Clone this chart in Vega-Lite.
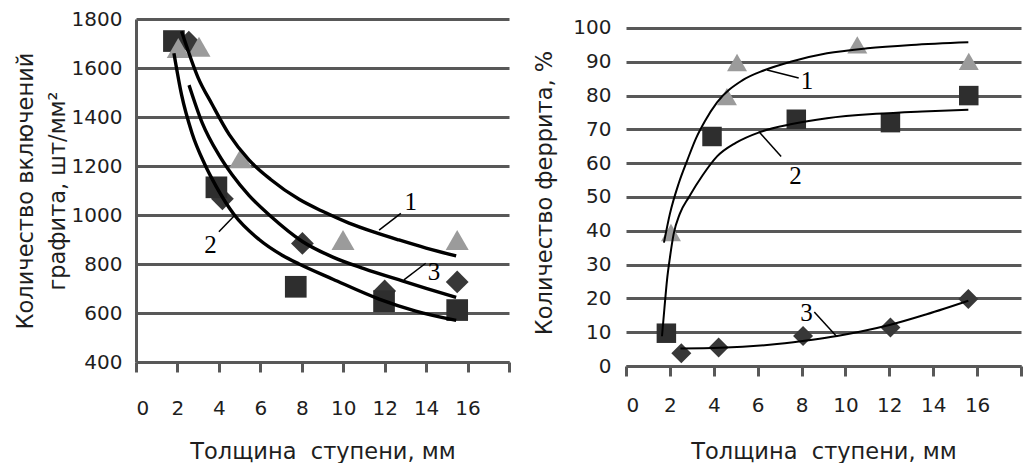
{
  "$schema": "https://vega.github.io/schema/vega-lite/v6.json",
  "padding": {"left": 14, "top": 9, "right": 0, "bottom": 0},
  "spacing": 22,
  "background": "white",
  "config": {
    "view": {"stroke": null},
    "font": "DejaVu Sans",
    "axis": {
      "labelFont": "DejaVu Sans",
      "labelFontSize": 20,
      "labelColor": "#1e1e1e",
      "titleFont": "DejaVu Sans",
      "titleFontSize": 22.5,
      "titleFontWeight": "normal",
      "titleColor": "#1e1e1e",
      "domainColor": "#585858",
      "domainWidth": 3,
      "tickColor": "#585858",
      "tickWidth": 3,
      "gridColor": "#585858",
      "gridWidth": 3,
      "gridOpacity": 1
    }
  },
  "datasets": {
    "leftPts": [
      {"x": 2.55, "y": 1705, "s": "d"}, {"x": 4.17, "y": 1066, "s": "d"}, {"x": 8.03, "y": 884, "s": "d"}, {"x": 12.0, "y": 690, "s": "d"}, {"x": 15.5, "y": 727, "s": "d"},
      {"x": 1.83, "y": 1710, "s": "s"}, {"x": 3.88, "y": 1113, "s": "s"}, {"x": 7.71, "y": 707, "s": "s"}, {"x": 11.97, "y": 648, "s": "s"}, {"x": 15.5, "y": 612, "s": "s"},
      {"x": 2.04, "y": 1682, "s": "t"}, {"x": 3.04, "y": 1687, "s": "t"}, {"x": 5.05, "y": 1231, "s": "t"}, {"x": 9.99, "y": 898, "s": "t"}, {"x": 15.5, "y": 898, "s": "t"}
    ],
    "leftCurves": [
      {"x": 2.2, "y": 1750, "c": "1"}, {"x": 3.0, "y": 1560, "c": "1"}, {"x": 3.67, "y": 1452, "c": "1"}, {"x": 4.5, "y": 1328, "c": "1"}, {"x": 5.45, "y": 1225, "c": "1"}, {"x": 6.5, "y": 1145, "c": "1"}, {"x": 7.87, "y": 1064, "c": "1"}, {"x": 9.0, "y": 1015, "c": "1"}, {"x": 10.28, "y": 967, "c": "1"}, {"x": 11.5, "y": 930, "c": "1"}, {"x": 12.69, "y": 898, "c": "1"}, {"x": 14.0, "y": 865, "c": "1"}, {"x": 15.45, "y": 833, "c": "1"},
      {"x": 1.83, "y": 1660, "c": "2"}, {"x": 2.2, "y": 1490, "c": "2"}, {"x": 2.7, "y": 1335, "c": "2"}, {"x": 3.3, "y": 1210, "c": "2"}, {"x": 3.86, "y": 1118, "c": "2"}, {"x": 4.73, "y": 1002, "c": "2"}, {"x": 5.94, "y": 900, "c": "2"}, {"x": 7.05, "y": 836, "c": "2"}, {"x": 7.87, "y": 800, "c": "2"}, {"x": 9.5, "y": 738, "c": "2"}, {"x": 11.73, "y": 657, "c": "2"}, {"x": 13.5, "y": 608, "c": "2"}, {"x": 15.45, "y": 570, "c": "2"},
      {"x": 2.56, "y": 1530, "c": "3"}, {"x": 3.2, "y": 1375, "c": "3"}, {"x": 4.0, "y": 1245, "c": "3"}, {"x": 4.63, "y": 1165, "c": "3"}, {"x": 5.45, "y": 1080, "c": "3"}, {"x": 6.5, "y": 995, "c": "3"}, {"x": 8.03, "y": 892, "c": "3"}, {"x": 9.5, "y": 828, "c": "3"}, {"x": 11.0, "y": 781, "c": "3"}, {"x": 12.85, "y": 731, "c": "3"}, {"x": 14.0, "y": 701, "c": "3"}, {"x": 15.45, "y": 664, "c": "3"}
    ],
    "leftLabels": [
      {"x": 13.26, "y": 1054, "t": "1"}, {"x": 3.6, "y": 878, "t": "2"}, {"x": 14.38, "y": 768, "t": "3"}
    ],
    "leftLeaders": [
      {"x": 12.78, "y": 1007, "x2": 11.73, "y2": 938},
      {"x": 4.0, "y": 932, "x2": 4.78, "y2": 1000},
      {"x": 13.98, "y": 803, "x2": 12.93, "y2": 735}
    ],
    "rightPts": [
      {"x": 2.52, "y": 3.8, "s": "d"}, {"x": 4.22, "y": 5.5, "s": "d"}, {"x": 8.07, "y": 8.9, "s": "d"}, {"x": 12.05, "y": 11.4, "s": "d"}, {"x": 15.6, "y": 19.8, "s": "d"},
      {"x": 1.84, "y": 9.7, "s": "s"}, {"x": 3.92, "y": 67.9, "s": "s"}, {"x": 7.76, "y": 73.0, "s": "s"}, {"x": 12.05, "y": 72.0, "s": "s"}, {"x": 15.62, "y": 80.0, "s": "s"},
      {"x": 2.05, "y": 39.5, "s": "t"}, {"x": 4.6, "y": 79.7, "s": "t"}, {"x": 5.06, "y": 89.8, "s": "t"}, {"x": 10.54, "y": 95.0, "s": "t"}, {"x": 15.62, "y": 90.1, "s": "t"}
    ],
    "rightCurves": [
      {"x": 1.73, "y": 36.5, "c": "1"}, {"x": 2.0, "y": 45, "c": "1"}, {"x": 2.4, "y": 54, "c": "1"}, {"x": 2.8, "y": 61, "c": "1"}, {"x": 3.2, "y": 67.5, "c": "1"}, {"x": 3.6, "y": 72.5, "c": "1"}, {"x": 4.15, "y": 78, "c": "1"}, {"x": 5.3, "y": 84.5, "c": "1"}, {"x": 6.3, "y": 87.5, "c": "1"}, {"x": 7.5, "y": 90, "c": "1"}, {"x": 9.16, "y": 92.5, "c": "1"}, {"x": 11.0, "y": 94, "c": "1"}, {"x": 13.0, "y": 95, "c": "1"}, {"x": 15.6, "y": 95.8, "c": "1"},
      {"x": 1.64, "y": 8.8, "c": "2"}, {"x": 1.75, "y": 17, "c": "2"}, {"x": 1.87, "y": 25.5, "c": "2"}, {"x": 2.0, "y": 32, "c": "2"}, {"x": 2.17, "y": 39, "c": "2"}, {"x": 2.45, "y": 45, "c": "2"}, {"x": 2.87, "y": 50, "c": "2"}, {"x": 3.5, "y": 56.5, "c": "2"}, {"x": 4.15, "y": 62, "c": "2"}, {"x": 5.0, "y": 66, "c": "2"}, {"x": 6.1, "y": 69.2, "c": "2"}, {"x": 7.5, "y": 71.5, "c": "2"}, {"x": 9.16, "y": 73.3, "c": "2"}, {"x": 11.4, "y": 74.6, "c": "2"}, {"x": 13.5, "y": 75.3, "c": "2"}, {"x": 15.6, "y": 75.8, "c": "2"},
      {"x": 2.48, "y": 5.2, "c": "3"}, {"x": 4.3, "y": 5.4, "c": "3"}, {"x": 6.88, "y": 6.5, "c": "3"}, {"x": 8.5, "y": 7.8, "c": "3"}, {"x": 9.62, "y": 8.9, "c": "3"}, {"x": 10.7, "y": 10.2, "c": "3"}, {"x": 12.05, "y": 12.2, "c": "3"}, {"x": 13.7, "y": 15.3, "c": "3"}, {"x": 15.6, "y": 19.3, "c": "3"}
    ],
    "rightLabels": [
      {"x": 8.25, "y": 84.2, "t": "1"}, {"x": 7.72, "y": 56.1, "t": "2"}, {"x": 8.22, "y": 15.8, "t": "3"}
    ],
    "rightLeaders": [
      {"x": 7.87, "y": 85.2, "x2": 6.43, "y2": 87.6},
      {"x": 7.07, "y": 62.0, "x2": 6.05, "y2": 69.4},
      {"x": 8.58, "y": 16.0, "x2": 9.58, "y2": 8.9}
    ]
  },
  "hconcat": [
    {
      "width": 373,
      "height": 343,
      "encoding": {
        "x": {"field": "x", "type": "quantitative", "scale": {"domain": [0, 18], "nice": false, "zero": false},
          "axis": {"values": [0, 2, 4, 6, 8, 10, 12, 14, 16, 18], "labelExpr": "datum.value == 18 ? '' : datum.label", "title": "Толщина\u00a0 ступени, мм", "grid": false, "tickSize": 10, "labelPadding": 26, "labelFlush": true, "titlePadding": 22}},
        "y": {"field": "y", "type": "quantitative", "scale": {"domain": [400, 1800], "nice": false, "zero": false},
          "axis": {"values": [400, 600, 800, 1000, 1200, 1400, 1600, 1800], "format": "d", "title": ["Количество включений", "графита, шт/мм²"], "titleLineHeight": 32, "grid": true, "ticks": false, "labelPadding": 14, "titlePadding": 2}}
      },
      "layer": [
        {"data": {"name": "leftPts"}, "transform": [{"filter": "datum.s == 'd'"}], "mark": {"type": "point", "shape": "diamond", "filled": true, "opacity": 1, "color": "#383838", "size": 520}},
        {"data": {"name": "leftPts"}, "transform": [{"filter": "datum.s == 's'"}], "mark": {"type": "point", "shape": "square", "filled": true, "opacity": 1, "color": "#2e2e2e", "size": 470}},
        {"data": {"name": "leftPts"}, "transform": [{"filter": "datum.s == 't'"}], "mark": {"type": "point", "shape": "triangle-up", "filled": true, "opacity": 1, "color": "#9b9b9b", "size": 530}},
        {"data": {"name": "leftCurves"}, "mark": {"type": "line", "color": "#000000", "strokeWidth": 3.4, "interpolate": "monotone"}, "encoding": {"detail": {"field": "c", "type": "nominal"}}},
        {"data": {"name": "leftLeaders"}, "mark": {"type": "rule", "color": "#000000", "strokeWidth": 1.5}, "encoding": {"x2": {"field": "x2"}, "y2": {"field": "y2"}}},
        {"data": {"name": "leftLabels"}, "mark": {"type": "text", "font": "Liberation Serif", "fontSize": 25, "color": "#000000", "align": "center", "baseline": "middle"}, "encoding": {"text": {"field": "t", "type": "nominal"}}}
      ]
    },
    {
      "width": 395,
      "height": 347,
      "encoding": {
        "x": {"field": "x", "type": "quantitative", "scale": {"domain": [0, 18], "nice": false, "zero": false},
          "axis": {"values": [0, 2, 4, 6, 8, 10, 12, 14, 16, 18], "labelExpr": "datum.value == 18 ? '' : datum.label", "title": "Толщина\u00a0 ступени, мм", "grid": false, "tickSize": 10, "labelPadding": 19, "titlePadding": 25}},
        "y": {"field": "y", "type": "quantitative", "scale": {"domain": [0, 102.66], "nice": false, "zero": false},
          "axis": {"values": [0, 10, 20, 30, 40, 50, 60, 70, 80, 90, 100], "title": "Количество феррита, %", "grid": true, "ticks": false, "domain": false, "labelPadding": 15, "titlePadding": 16}}
      },
      "layer": [
        {"mark": {"type": "rule", "color": "#585858", "strokeWidth": 3}, "encoding": {"x": {"datum": 0}, "y": {"datum": 0}, "y2": {"datum": 100}}},
        {"data": {"name": "rightPts"}, "transform": [{"filter": "datum.s == 'd'"}], "mark": {"type": "point", "shape": "diamond", "filled": true, "opacity": 1, "color": "#383838", "size": 400}},
        {"data": {"name": "rightPts"}, "transform": [{"filter": "datum.s == 's'"}], "mark": {"type": "point", "shape": "square", "filled": true, "opacity": 1, "color": "#2e2e2e", "size": 380}},
        {"data": {"name": "rightPts"}, "transform": [{"filter": "datum.s == 't'"}], "mark": {"type": "point", "shape": "triangle-up", "filled": true, "opacity": 1, "color": "#9b9b9b", "size": 400}},
        {"data": {"name": "rightCurves"}, "mark": {"type": "line", "color": "#000000", "strokeWidth": 2, "interpolate": "monotone"}, "encoding": {"detail": {"field": "c", "type": "nominal"}}},
        {"data": {"name": "rightLeaders"}, "mark": {"type": "rule", "color": "#000000", "strokeWidth": 1.5}, "encoding": {"x2": {"field": "x2"}, "y2": {"field": "y2"}}},
        {"data": {"name": "rightLabels"}, "mark": {"type": "text", "font": "Liberation Serif", "fontSize": 25, "color": "#000000", "align": "center", "baseline": "middle"}, "encoding": {"text": {"field": "t", "type": "nominal"}}}
      ]
    }
  ]
}
